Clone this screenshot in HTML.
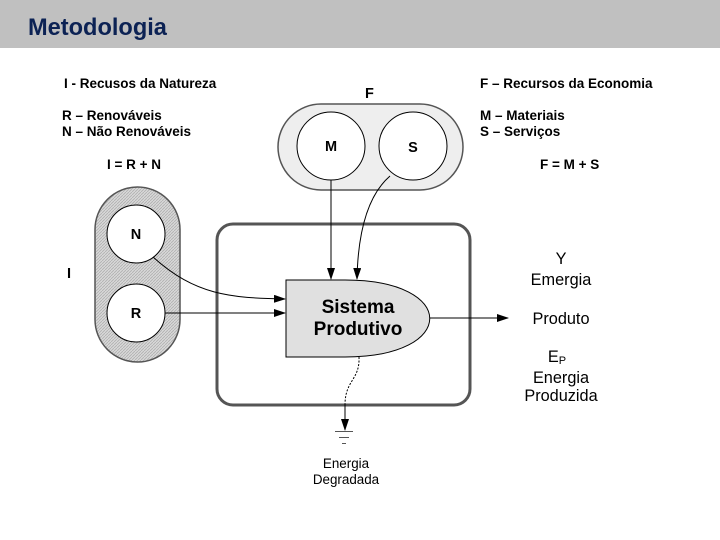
<!DOCTYPE html>
<html><head><meta charset="utf-8"><style>
html,body{margin:0;padding:0;background:#fff}
svg{display:block}
text{font-family:"Liberation Sans",Arial,sans-serif}
</style></head><body>
<svg width="720" height="540" viewBox="0 0 720 540" xmlns="http://www.w3.org/2000/svg" font-family="Liberation Sans, Arial, sans-serif">
<defs>
<pattern id="hatch" width="3" height="3" patternUnits="userSpaceOnUse">
<rect width="3" height="3" fill="#d8d8d8"/>
<path d="M0,3 L3,0" stroke="#b0b0b0" stroke-width="0.8"/>
</pattern>
<marker id="ar" markerWidth="12" markerHeight="8" refX="11" refY="4" orient="auto" markerUnits="userSpaceOnUse">
<path d="M0,0 L12,4 L0,8 z" fill="#000"/>
</marker>
</defs>
<rect x="0" y="0" width="720" height="48" fill="#c0c0c0"/>
<text x="28" y="35" font-size="23.6" font-weight="bold" fill="#0c2254">Metodologia</text>

<g font-size="13.5" font-weight="bold" fill="#000">
<text x="64" y="88">I - Recusos da Natureza</text>
<text x="62" y="120">R – Renováveis</text>
<text x="62" y="136">N – Não Renováveis</text>
<text x="107" y="169">I = R + N</text>
<text x="480" y="88">F – Recursos da Economia</text>
<text x="480" y="120">M – Materiais</text>
<text x="480" y="136">S – Serviços</text>
<text x="540" y="169">F = M + S</text>
<text x="365" y="98" font-size="14.5">F</text>
<text x="67" y="278" font-size="14.5">I</text>
</g>

<rect x="278" y="104" width="185" height="86" rx="43" fill="#eeeeee" stroke="#555" stroke-width="1.5"/>
<circle cx="331" cy="146" r="34" fill="#fff" stroke="#000" stroke-width="1"/>
<circle cx="413" cy="146" r="34" fill="#fff" stroke="#000" stroke-width="1"/>
<text x="331" y="151" font-size="14.5" font-weight="bold" text-anchor="middle">M</text>
<text x="413" y="152" font-size="14.5" font-weight="bold" text-anchor="middle">S</text>

<rect x="95" y="187" width="85" height="175" rx="42.5" fill="url(#hatch)" stroke="#555" stroke-width="1.5"/>
<circle cx="136" cy="234" r="29" fill="#fff" stroke="#000" stroke-width="1"/>
<circle cx="136" cy="313" r="29" fill="#fff" stroke="#000" stroke-width="1"/>
<text x="136" y="239" font-size="14.5" font-weight="bold" text-anchor="middle">N</text>
<text x="136" y="318" font-size="14.5" font-weight="bold" text-anchor="middle">R</text>

<rect x="217" y="224" width="253" height="181" rx="16" fill="none" stroke="#555" stroke-width="3"/>

<path d="M286,280 L345,280 C458,280 458,357 345,357 L286,357 Z" fill="#e0e0e0" stroke="#000" stroke-width="1"/>
<text x="358" y="313" font-size="19" font-weight="bold" text-anchor="middle">Sistema</text>
<text x="358" y="335" font-size="19" font-weight="bold" text-anchor="middle">Produtivo</text>

<g fill="none" stroke="#000" stroke-width="1">
<path d="M331,180 L331,279" marker-end="url(#ar)"/>
<path d="M390,176 C368,195 358,230 357,279" marker-end="url(#ar)"/>
<path d="M153,257 C195,295 230,298 285,299" marker-end="url(#ar)"/>
<path d="M165,313 L285,313" marker-end="url(#ar)"/>
<path d="M430,318 L508,318" marker-end="url(#ar)"/>
<path d="M359,357 C360,380 345,380 345,405" stroke-dasharray="2,1.5"/>
<path d="M345,405 L345,430" marker-end="url(#ar)"/>
<path d="M335,431.5 L353,431.5 M339,437.5 L349,437.5 M342,443.5 L346,443.5" stroke="#555"/>
</g>

<g font-size="16.3" text-anchor="middle" fill="#000">
<text x="561" y="264">Y</text>
<text x="561" y="285">Emergia</text>
<text x="561" y="324">Produto</text>
<text x="557" y="362">E<tspan font-size="11" dy="2">P</tspan></text>
<text x="561" y="383">Energia</text>
<text x="561" y="401">Produzida</text>
</g>
<g font-size="13.4" text-anchor="middle" fill="#000">
<text x="346" y="468">Energia</text>
<text x="346" y="484">Degradada</text>
</g>
</svg>
</body></html>
